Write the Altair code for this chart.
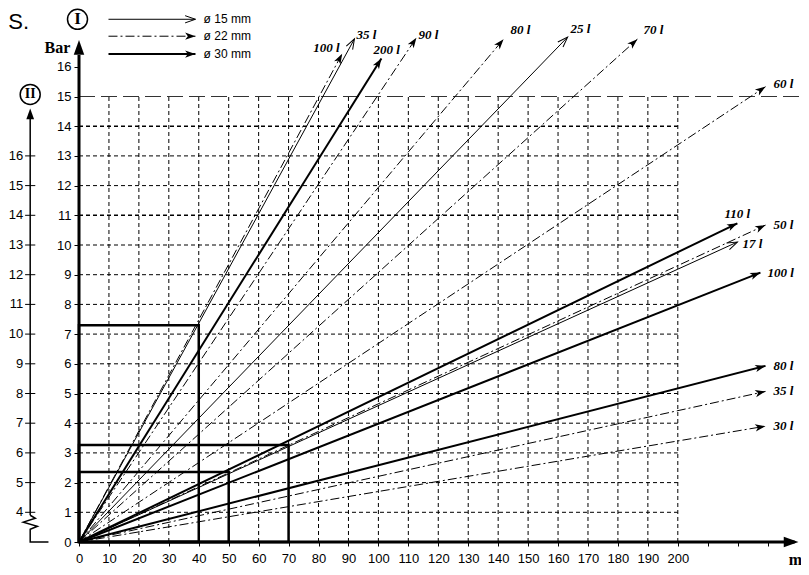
import altair as alt
import numpy as np
import pandas as pd

# flow lines: label, pipe diameter (mm), arrow tip (m, bar)
flow_label = ["100 l", "35 l", "200 l", "90 l", "80 l", "25 l", "70 l", "60 l",
              "110 l", "50 l", "17 l", "100 l", "80 l", "35 l", "30 l"]
flow_pipe = ["22", "15", "30", "22", "22", "15", "22", "22",
             "30", "22", "15", "30", "30", "22", "22"]
flow_m = [87.9, 92.0, 101.0, 112.7, 141.8, 163.2, 186.5, 229.3,
          219.9, 229.3, 219.9, 227.6, 229.3, 229.3, 229.3]
flow_bar = [16.44, 16.94, 16.28, 16.98, 16.93, 17.0, 16.93, 15.33,
            10.73, 10.67, 10.1, 9.07, 5.93, 5.07, 3.9]

# reading boxes (m, bar)
box_m = [40, 70, 50]
box_bar = [7.3, 3.27, 2.36]

grid_m = list(range(10, 201, 10))
grid_bar = list(range(1, 15))
x_ticks = list(range(0, 231, 10))
y_ticks = list(range(0, 17))

# scale II shares the grid, its value sits on main value + 3
ii_values = list(range(4, 17))

legend_pipe = ["15", "22", "30"]
legend_text = ["ø 15 mm", "ø 22 mm", "ø 30 mm"]

PX_M = 2.994   # px per metre
PX_BAR = 29.7  # px per bar
W, H = 722, 534
XMAX, YMAX = W / PX_M, H / PX_BAR

# label nudges in px (right, down) from the arrow tip
label_nudge = [(-29, -2), (2, 0), (-8, -4), (2, 1), (7, -5), (3, -4), (6, -5), (8, 1),
               (-13, -5), (8, 4), (5, 6), (7, 4), (8, 4), (8, 4), (8, 4)]

flows = pd.DataFrame({"label": flow_label, "pipe": flow_pipe, "m": flow_m, "bar": flow_bar})
flows["x0"] = 0.0
flows["y0"] = 0.0
flows["angle"] = 90 - np.degrees(np.arctan2(flows["bar"] * PX_BAR, flows["m"] * PX_M))
flows["lx"] = flows["m"] + np.array([n[0] for n in label_nudge]) / PX_M
flows["ly"] = flows["bar"] - np.array([n[1] for n in label_nudge]) / PX_BAR

xs = alt.Scale(domain=[0, XMAX], nice=False, zero=False)
ys = alt.Scale(domain=[0, YMAX], nice=False, zero=False)
x_axis = alt.Axis(values=x_ticks, labelExpr="datum.value <= 200 ? datum.label : ''",
                  domain=False, grid=False, tickSize=4, tickColor="black", tickWidth=1,
                  labelFont="Liberation Sans", labelFontSize=13, labelColor="black",
                  labelFlush=False, labelOverlap=False, labelPadding=6, title=None)
y_axis = alt.Axis(values=y_ticks, domain=False, grid=False, tickSize=5, tickColor="black",
                  tickWidth=1, labelFont="Liberation Sans", labelFontSize=13,
                  labelColor="black", labelFlush=False, labelOverlap=False,
                  labelPadding=3, title=None)


def X(f):
    return alt.X(f"{f}:Q", scale=xs, axis=x_axis)


def Y(f):
    return alt.Y(f"{f}:Q", scale=ys, axis=y_axis)


ARROW_FILLED = "M0,0 L0.8,2.3 L0,1.7 L-0.8,2.3 Z"
ARROW_OPEN = "M-0.8,2.3 L0,0 L0.8,2.3"
ARROW_AXIS = "M0,0 L1,2.8 L-1,2.8 Z"

layers = []

# grid
vgrid = pd.DataFrame({"m": grid_m, "y0": 0, "y1": 15})
layers.append(alt.Chart(vgrid).mark_rule(color="black", strokeWidth=1, strokeDash=[4, 3])
              .encode(x=X("m"), y=Y("y0"), y2="y1"))
hgrid = pd.DataFrame({"bar": grid_bar, "x0": 0, "x1": 200})
hgrid["w"] = [1.5 if b in (11, 14) else 1.0 for b in grid_bar]
layers.append(alt.Chart(hgrid).mark_rule(color="black", strokeDash=[4, 3])
              .encode(x=X("x0"), x2="x1", y=Y("bar"),
                      strokeWidth=alt.StrokeWidth("w:Q", scale=None)))
top = pd.DataFrame({"bar": [15], "x0": [0], "x1": [XMAX]})
layers.append(alt.Chart(top).mark_rule(color="#333", strokeWidth=1.2, strokeDash=[16, 6])
              .encode(x=X("x0"), x2="x1", y=Y("bar")))

# boxes
boxes = pd.DataFrame({"m": box_m, "bar": box_bar, "x0": 0, "y0": 0})
layers.append(alt.Chart(boxes).mark_rect(color="black", fillOpacity=0, stroke="black",
                                         strokeWidth=2.5)
              .encode(x=X("x0"), x2="m", y=Y("y0"), y2="bar"))

line_style = {"15": dict(strokeWidth=1.0),
              "22": dict(strokeWidth=1.0, strokeDash=[9, 3, 2, 3]),
              "30": dict(strokeWidth=2.0)}

for pipe, style in line_style.items():
    sub = flows[flows["pipe"] == pipe]
    layers.append(alt.Chart(sub).mark_rule(color="black", **style)
                  .encode(x=X("x0"), x2="m", y=Y("y0"), y2="bar"))
    if pipe == "15":
        head = alt.Chart(sub).mark_point(shape=ARROW_OPEN, filled=False, stroke="black",
                                         strokeWidth=1, size=81, opacity=1)
    else:
        head = alt.Chart(sub).mark_point(shape=ARROW_FILLED, filled=True, color="black",
                                         size=81, opacity=1)
    layers.append(head.encode(x=X("m"), y=Y("bar"), angle=alt.Angle("angle:Q", scale=None)))

layers.append(alt.Chart(flows).mark_text(align="left", baseline="alphabetic",
                                         font="Liberation Serif", fontStyle="italic",
                                         fontWeight="bold", fontSize=13, color="black")
              .encode(x=X("lx"), y=Y("ly"), text="label:N"))

# main axes with arrows
axes = pd.DataFrame({"x0": [0, 0], "y0": [0, 0], "x1": [0, 239.0], "y1": [16.4, 0]})
layers.append(alt.Chart(axes).mark_rule(color="black", strokeWidth=3)
              .encode(x=X("x0"), x2="x1", y=Y("y0"), y2="y1"))
axis_tips = pd.DataFrame({"m": [0, 240.3], "bar": [16.9, 0], "angle": [0, 90]})
layers.append(alt.Chart(axis_tips).mark_point(shape=ARROW_AXIS, filled=True, color="black",
                                              size=110, opacity=1)
              .encode(x=X("m"), y=Y("bar"), angle=alt.Angle("angle:Q", scale=None)))

# scale II
II_X = -16.3
ii = pd.DataFrame({"v": ii_values})
ii["bar"] = ii["v"] - 3
ii["x0"] = II_X - 1.7
ii["x1"] = II_X + 1.7
ii["lx"] = II_X - 2.3
layers.append(alt.Chart(ii).mark_rule(color="black", strokeWidth=1)
              .encode(x=X("x0"), x2="x1", y=Y("bar")))
layers.append(alt.Chart(ii).mark_text(align="right", baseline="middle",
                                      font="Liberation Sans", fontSize=13, color="black")
              .encode(x=X("lx"), y=Y("bar"), text="v:Q"))
ii_axis = pd.DataFrame({"x0": [II_X], "y0": [0.9], "y1": [14.3]})
layers.append(alt.Chart(ii_axis).mark_rule(color="black", strokeWidth=1.5)
              .encode(x=X("x0"), y=Y("y0"), y2="y1"))
ii_tip = pd.DataFrame({"m": [II_X], "bar": [14.6], "angle": [0]})
layers.append(alt.Chart(ii_tip).mark_point(shape=ARROW_AXIS, filled=True, color="black",
                                           size=60, opacity=1)
              .encode(x=X("m"), y=Y("bar"), angle=alt.Angle("angle:Q", scale=None)))
zig = pd.DataFrame({"m": [II_X, II_X + 1.7, II_X - 2.3, II_X + 2.4, II_X, II_X, -10.2],
                    "bar": [0.9, 0.8, 0.67, 0.53, 0.43, 0.0, 0.0]})
zig["i"] = range(len(zig))
layers.append(alt.Chart(zig).mark_line(color="black", strokeWidth=1.5)
              .encode(x=X("m"), y=Y("bar"), order="i:Q"))

# legend
leg = pd.DataFrame({"pipe": legend_pipe, "text": legend_text, "bar": [17.6, 17.03, 16.43]})
leg["x0"] = 9.85
leg["x1"] = 38.9
leg["lx"] = 41.6
leg["angle"] = 90
for pipe, style in line_style.items():
    sub = leg[leg["pipe"] == pipe]
    layers.append(alt.Chart(sub).mark_rule(color="black", **style)
                  .encode(x=X("x0"), x2="x1", y=Y("bar")))
    if pipe == "15":
        head = alt.Chart(sub).mark_point(shape=ARROW_OPEN, filled=False, stroke="black",
                                         strokeWidth=1, size=81, opacity=1)
    else:
        head = alt.Chart(sub).mark_point(shape=ARROW_FILLED, filled=True, color="black",
                                         size=81, opacity=1)
    layers.append(head.encode(x=X("x1"), y=Y("bar"), angle=alt.Angle("angle:Q", scale=None)))
layers.append(alt.Chart(leg).mark_text(align="left", baseline="middle",
                                       font="Liberation Sans", fontSize=12, color="black")
              .encode(x=X("lx"), y=Y("bar"), text="text:N"))


def note(x, y, text, **mark):
    d = pd.DataFrame({"x": [x], "y": [y], "t": [text]})
    return alt.Chart(d).mark_text(color="black", baseline="middle", **mark).encode(
        x=X("x"), y=Y("y"), text="t:N")


circles = pd.DataFrame({"x": [-0.5, II_X], "y": [17.6, 15.07]})
layers.append(alt.Chart(circles).mark_point(shape="circle", size=400, filled=False,
                                            stroke="black", strokeWidth=1.5, opacity=1)
              .encode(x=X("x"), y=Y("y")))
layers.append(note(-0.5, 17.6, "I", font="Liberation Serif", fontWeight="bold", fontSize=17))
layers.append(note(II_X, 15.07, "II", font="Liberation Serif", fontWeight="bold", fontSize=14))
layers.append(note(-7.2, 16.63, "Bar", font="Liberation Serif", fontWeight="bold", fontSize=16))
layers.append(note(239.3, -0.6, "m", font="Liberation Serif", fontWeight="bold", fontSize=16))
layers.append(note(-23.6, 17.5, "S.", align="left", font="Liberation Sans", fontSize=22))

chart = alt.layer(*layers).properties(
    width=W, height=H,
    padding={"left": 71, "top": 0, "right": 0, "bottom": 25},
    autosize=alt.AutoSizeParams(type="none"),
).configure_view(stroke=None)

chart.save("out.html", embed_options={"renderer": "svg", "actions": False})
